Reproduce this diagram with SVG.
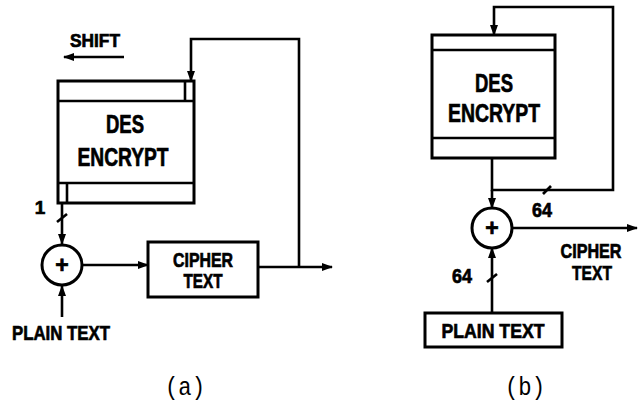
<svg xmlns="http://www.w3.org/2000/svg" width="638" height="402" viewBox="0 0 638 402">
<style>
.box{fill:#fff;stroke:#000;stroke-width:3}
.ln{fill:none;stroke:#000;stroke-width:2.6}
.arr{marker-end:url(#ah)}
.t{font-family:"Liberation Sans",Arial,sans-serif;font-weight:bold;fill:#000;stroke:#000;stroke-width:0.7;text-anchor:middle}
.cap{font-family:"Liberation Mono","Courier New",monospace;fill:#000;text-anchor:middle;font-size:25px}
</style>
<defs>
<marker id="ah" markerWidth="11" markerHeight="8" refX="10" refY="4" orient="auto" markerUnits="userSpaceOnUse">
<path d="M0,0 L11,4 L0,8 Z" fill="#000"/>
</marker>
</defs>
<rect width="638" height="402" fill="#fff"/>

<g id="connectors">
<!-- (a) -->
<line class="ln arr" x1="124" y1="57" x2="64" y2="57"/>
<path class="ln arr" d="M299,267 V39 H191 V81"/>
<line class="ln arr" x1="62" y1="203" x2="62" y2="244"/>
<line class="ln" x1="57" y1="222" x2="67" y2="214"/>
<line class="ln arr" x1="62" y1="317" x2="62" y2="286"/>
<line class="ln arr" x1="82" y1="265" x2="148" y2="265"/>
<line class="ln arr" x1="258" y1="267" x2="332" y2="267"/>
<!-- (b) -->
<path class="ln arr" d="M492,158 V190 H613 V7 H494 V35"/>
<line class="ln" x1="543" y1="194" x2="551" y2="186"/>
<line class="ln arr" x1="492" y1="190" x2="492" y2="208"/>
<line class="ln arr" x1="512" y1="228" x2="637" y2="228"/>
<line class="ln arr" x1="492" y1="313" x2="492" y2="248"/>
<line class="ln" x1="487" y1="282" x2="497" y2="274"/>
</g>

<g id="shift-label"><text class="t" x="95" y="47" font-size="19" textLength="50" lengthAdjust="spacingAndGlyphs">SHIFT</text></g>

<g id="des-a">
<rect class="box" x="58" y="81" width="136" height="122"/>
<line class="ln" x1="58" y1="101" x2="194" y2="101" stroke-width="3"/>
<line class="ln" x1="58" y1="183" x2="194" y2="183" stroke-width="3"/>
<line class="ln" x1="185" y1="81" x2="185" y2="101"/>
<line class="ln" x1="67" y1="183" x2="67" y2="203"/>
<text class="t" x="125" y="133" font-size="25" textLength="38" lengthAdjust="spacingAndGlyphs">DES</text>
<text class="t" x="123" y="166" font-size="25" textLength="91" lengthAdjust="spacingAndGlyphs">ENCRYPT</text>
</g>

<g id="label-1"><text class="t" x="40" y="214" font-size="19">1</text></g>

<g id="xor-a">
<circle cx="62" cy="265" r="20" fill="#fff" stroke="#000" stroke-width="3"/>
<text class="t" x="62" y="273" font-size="23">+</text>
</g>

<g id="plain-a"><text class="t" x="61" y="340" font-size="21" textLength="98" lengthAdjust="spacingAndGlyphs">PLAIN TEXT</text></g>

<g id="cipher-a">
<rect class="box" x="148" y="242" width="110" height="55"/>
<text class="t" x="203" y="267" font-size="20" textLength="60" lengthAdjust="spacingAndGlyphs">CIPHER</text>
<text class="t" x="203" y="288" font-size="20" textLength="39" lengthAdjust="spacingAndGlyphs">TEXT</text>
</g>

<g id="caption-a"><text class="cap" x="185" y="395" textLength="40" lengthAdjust="spacingAndGlyphs">(a)</text></g>

<g id="des-b">
<rect class="box" x="432" y="35" width="123" height="123"/>
<line class="ln" x1="432" y1="50" x2="555" y2="50" stroke-width="3"/>
<line class="ln" x1="432" y1="138" x2="555" y2="138" stroke-width="3"/>
<text class="t" x="494" y="92" font-size="26" textLength="38" lengthAdjust="spacingAndGlyphs">DES</text>
<text class="t" x="494" y="122" font-size="26" textLength="92" lengthAdjust="spacingAndGlyphs">ENCRYPT</text>
</g>

<g id="label-64-top"><text class="t" x="542" y="217" font-size="20" textLength="20" lengthAdjust="spacingAndGlyphs">64</text></g>

<g id="xor-b">
<circle cx="492" cy="228" r="20" fill="#fff" stroke="#000" stroke-width="3"/>
<text class="t" x="492" y="236" font-size="23">+</text>
</g>

<g id="cipher-b">
<text class="t" x="591" y="258" font-size="21" textLength="61" lengthAdjust="spacingAndGlyphs">CIPHER</text>
<text class="t" x="592" y="280" font-size="21" textLength="40" lengthAdjust="spacingAndGlyphs">TEXT</text>
</g>

<g id="label-64-bottom"><text class="t" x="462" y="283" font-size="20" textLength="20" lengthAdjust="spacingAndGlyphs">64</text></g>

<g id="plain-b">
<rect class="box" x="425" y="313" width="137" height="34"/>
<text class="t" x="493" y="338" font-size="21" textLength="103" lengthAdjust="spacingAndGlyphs">PLAIN TEXT</text>
</g>

<g id="caption-b"><text class="cap" x="525" y="395" textLength="40" lengthAdjust="spacingAndGlyphs">(b)</text></g>
</svg>
